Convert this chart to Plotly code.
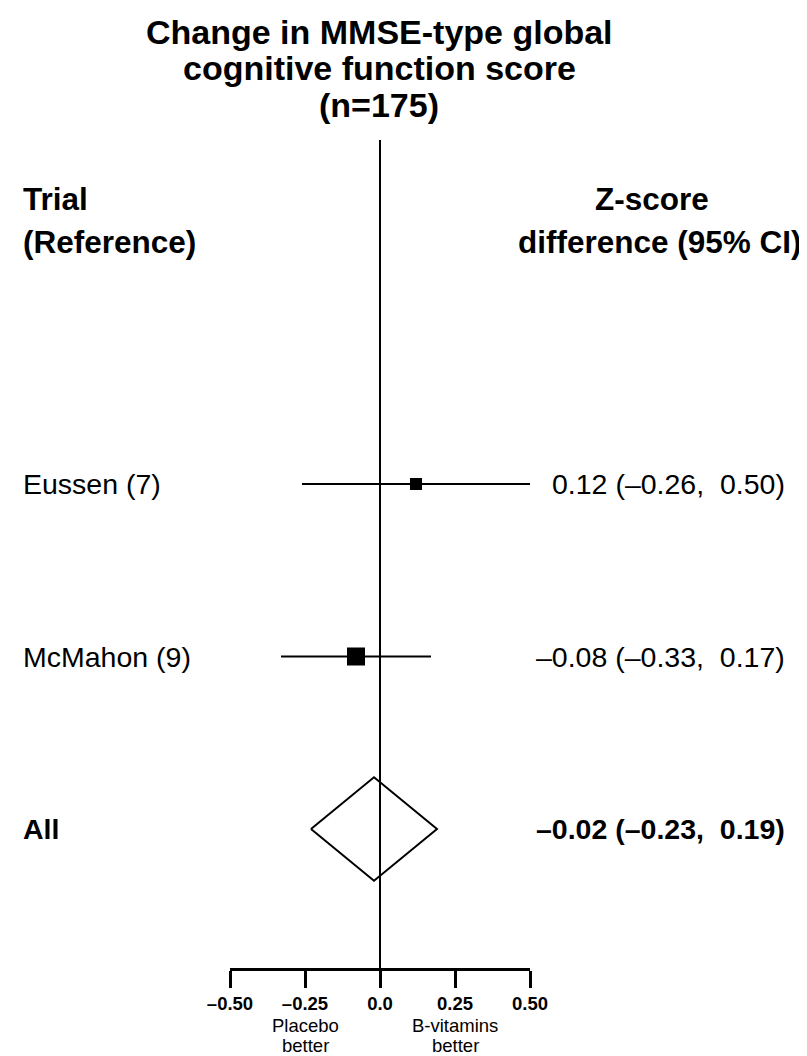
import plotly.graph_objects as go

# ---- data ----
trials = ["Eussen (7)", "McMahon (9)"]
est = [0.12, -0.08]
lo = [-0.26, -0.33]
hi = [0.50, 0.17]
SP = "\u00a0\u00a0"
ci_text = [f"0.12 (\u20130.26,{SP}0.50)", f"\u20130.08 (\u20130.33,{SP}0.17)"]

pooled_label = "All"
pooled_est = -0.02
pooled_lo = -0.23
pooled_hi = 0.19
pooled_text = f"\u20130.02 (\u20130.23,{SP}0.19)"

tick_vals = [-0.50, -0.25, 0.0, 0.25, 0.50]
tick_text = ["\u20130.50", "\u20130.25", "0.0", "0.25", "0.50"]

title_lines = ["Change in MMSE-type global", "cognitive function score", "(n=175)"]

# ---- style / layout (screen pixels) ----
W, H = 807, 1056
OFF = 8  # page body margin
FONT = "Liberation Sans, Arial, Helvetica, sans-serif"
marker_sizes = [12, 18]
diamond_half = 0.30
rows = list(range(len(trials)))
pooled_row = len(trials)

ROW0_PX, ROW_STEP = 484, 172.5
AXIS_PX = 968
X_LEFT_PX, X_RIGHT_PX = 230, 530


def px_to_row(py):
    return (py - ROW0_PX) / ROW_STEP


fig = go.Figure()

fig.add_trace(go.Scatter(
    x=est, y=rows, mode="markers",
    marker=dict(symbol="square", size=marker_sizes, color="black", opacity=1,
                line=dict(width=0, color="black")),
    error_x=dict(type="data", symmetric=False,
                 array=[h - e for h, e in zip(hi, est)],
                 arrayminus=[e - l for e, l in zip(est, lo)],
                 width=0, thickness=2, color="black"),
    showlegend=False, hoverinfo="skip"))

fig.add_trace(go.Scatter(
    x=[pooled_lo, pooled_est, pooled_hi, pooled_est, pooled_lo],
    y=[pooled_row, pooled_row - diamond_half, pooled_row, pooled_row + diamond_half, pooled_row],
    mode="lines", line=dict(color="black", width=2),
    showlegend=False, hoverinfo="skip"))

# invisible helper trace to establish a full-page overlay coordinate system
fig.add_trace(go.Scatter(x=[None], y=[None], xaxis="x2", yaxis="y2",
                         mode="markers", showlegend=False, hoverinfo="skip"))

# vertical reference line at 0
fig.add_shape(type="line", x0=0, x1=0, y0=px_to_row(140), y1=px_to_row(AXIS_PX),
              xref="x", yref="y", line=dict(color="black", width=2))


def txt(text, x, y, size, anchor="center", bold=False):
    return dict(text=f"<b>{text}</b>" if bold else text, x=x, y=y, xref="x2", yref="y2",
                xanchor=anchor, yanchor="middle", showarrow=False, borderpad=0,
                font=dict(size=size, family=FONT, color="black"))


ann = []
for t, yy in zip(title_lines, [32, 68, 105]):
    ann.append(txt(t, 379, yy, 34, "center", True))

ann.append(txt("Trial", 22, 199, 31.5, "left", True))
ann.append(txt("(Reference)", 22, 242, 31.5, "left", True))
ann.append(txt("Z-score", 652, 199, 31.5, "center", True))
ann.append(txt("difference (95% CI)", 803, 242, 31.5, "right", True))

for r, name, ct in zip(rows, trials, ci_text):
    yy = ROW0_PX + ROW_STEP * r
    ann.append(txt(name, 22, yy, 28.5, "left"))
    ann.append(txt(ct, 786, yy, 28.5, "right"))

yy = ROW0_PX + ROW_STEP * pooled_row
ann.append(txt(pooled_label, 22, yy, 28.5, "left", True))
ann.append(txt(pooled_text, 786, yy, 28.5, "right", True))

ann.append(txt("Placebo", 305, 1025, 18.5, "center"))
ann.append(txt("better", 305, 1045, 18.5, "center"))
ann.append(txt("B-vitamins", 455, 1025, 18.5, "center"))
ann.append(txt("better", 455, 1045, 18.5, "center"))

fig.update_layout(
    width=W, height=H,
    margin=dict(l=0, r=0, t=0, b=0, autoexpand=False),
    paper_bgcolor="white", plot_bgcolor="rgba(0,0,0,0)",
    annotations=ann,
    xaxis=dict(domain=[(X_LEFT_PX - OFF) / W, (X_RIGHT_PX - OFF) / W], range=[-0.5, 0.5],
               showline=True, linecolor="black", linewidth=3,
               ticks="outside", ticklen=17, tickwidth=3, tickcolor="black",
               tickvals=tick_vals, ticktext=[f"<b>{t}</b>" for t in tick_text],
               tickfont=dict(size=18.5, family=FONT, color="black"),
               showgrid=False, zeroline=False, fixedrange=True, automargin=False),
    yaxis=dict(domain=[1 - (AXIS_PX - OFF) / H, 1],
               range=[px_to_row(AXIS_PX), px_to_row(OFF)],
               visible=False, showgrid=False, zeroline=False, fixedrange=True),
    xaxis2=dict(domain=[0, 1], range=[OFF, OFF + W], visible=False, anchor="y2",
                showgrid=False, zeroline=False, fixedrange=True),
    yaxis2=dict(domain=[0, 1], range=[OFF + H, OFF], visible=False, anchor="x2",
                showgrid=False, zeroline=False, fixedrange=True),
)

fig.write_html("out.html")
